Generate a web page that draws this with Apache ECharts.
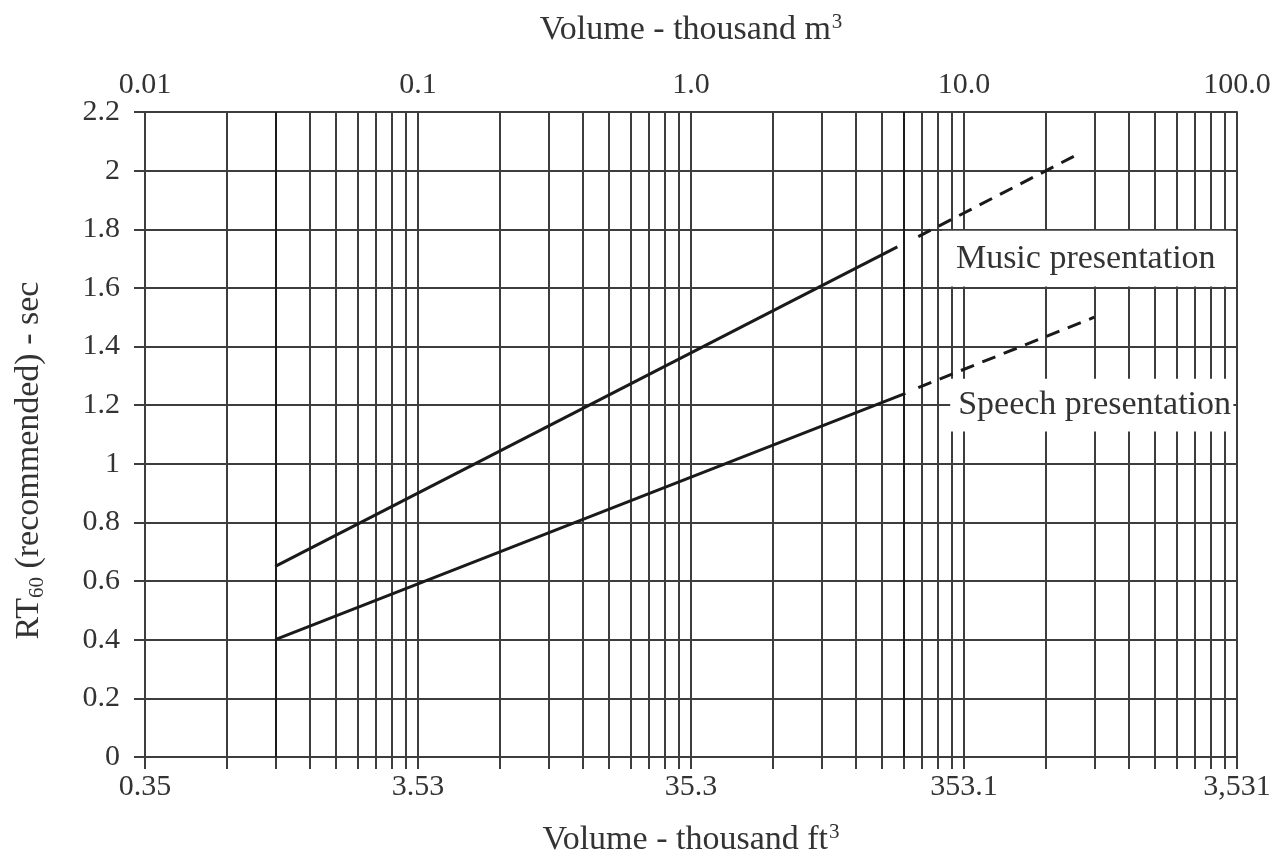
<!DOCTYPE html>
<html>
<head>
<meta charset="utf-8">
<script src="https://cdn.jsdelivr.net/npm/echarts@6/dist/echarts.min.js"></script>
<style>html,body{margin:0;padding:0;background:#fff}#c{width:1276px;height:857px}</style>
</head>
<body>
<div id="c"></div>
<script>
// ---- data ----
const musicSolid = [[0.03, 0.65], [5.7, 1.74]];
const musicDashed = [[6.8, 1.775], [26, 2.055]];
const speechSolid = [[0.03, 0.40], [6.1, 1.24]];
const speechDashed = [[6.8, 1.26], [30, 1.50]];
const majorTicks = [0.01, 0.1, 1, 10, 100];
const topLabels = ['0.01', '0.1', '1.0', '10.0', '100.0'];
const bottomLabels = ['0.35', '3.53', '35.3', '353.1', '3,531'];
const gridTicks = [];
[0.01, 0.1, 1, 10].forEach(function (d) {
  for (let k = 1; k <= 9; k++) gridTicks.push(+(d * k).toPrecision(6));
});
gridTicks.push(100);
const boundaryLines = [0.03, 6];
const musicLabelBox = [[8.3, 1.605], [97, 1.795]];
const speechLabelBox = [[8.9, 1.11], [97, 1.29]];

const FONT = 'Liberation Serif';
const TXT = '#333';
const GRID = '#3d3d3d';

function labelIndex(v) {
  for (let i = 0; i < majorTicks.length; i++) {
    if (Math.abs(Math.log10(v) - Math.log10(majorTicks[i])) < 1e-6) return i;
  }
  return -1;
}

const chart = echarts.init(document.getElementById('c'), null, {renderer: 'canvas'});
chart.setOption({
  animation: false,
  backgroundColor: '#fff',
  grid: {left: 145, right: 39, top: 112, bottom: 100, containLabel: false, outerBoundsMode: 'none'},
  xAxis: [{
    type: 'log', logBase: 10, min: 0.01, max: 100, position: 'bottom',
    name: '{t|Volume - thousand ft}{p|3}',
    nameLocation: 'middle', nameGap: 65,
    nameTextStyle: {
      color: TXT, fontFamily: FONT, fontSize: 34,
      rich: {
        t: {color: TXT, fontFamily: FONT, fontSize: 34, lineHeight: 36},
        p: {color: TXT, fontFamily: FONT, fontSize: 21, lineHeight: 36, verticalAlign: 'top', padding: [0, 0, 13, 1]}
      }
    },
    axisLine: {show: true, onZero: false, lineStyle: {color: GRID, width: 2}},
    axisTick: {show: true, customValues: gridTicks, length: 12, lineStyle: {color: GRID, width: 2}},
    axisLabel: {
      customValues: majorTicks, margin: 15, color: TXT, fontFamily: FONT, fontSize: 30,
      formatter: function (v) { const i = labelIndex(v); return i >= 0 ? bottomLabels[i] : ''; }
    },
    splitLine: {show: true, lineStyle: {color: GRID, width: 2}}
  }, {
    type: 'log', logBase: 10, min: 0.01, max: 100, position: 'top',
    name: '{t|Volume - thousand m}{p|3}',
    nameLocation: 'middle', nameGap: 64,
    nameTextStyle: {
      color: TXT, fontFamily: FONT, fontSize: 34,
      rich: {
        t: {color: TXT, fontFamily: FONT, fontSize: 34, lineHeight: 36},
        p: {color: TXT, fontFamily: FONT, fontSize: 21, lineHeight: 36, verticalAlign: 'top', padding: [0, 0, 13, 1]}
      }
    },
    axisLine: {show: true, onZero: false, lineStyle: {color: GRID, width: 2}},
    axisTick: {show: false, customValues: majorTicks},
    axisLabel: {
      customValues: majorTicks, margin: 12, color: TXT, fontFamily: FONT, fontSize: 30,
      formatter: function (v) { const i = labelIndex(v); return i >= 0 ? topLabels[i] : ''; }
    },
    splitLine: {show: false}
  }],
  yAxis: [{
    type: 'value', min: 0, max: 2.2, interval: 0.2,
    name: '{t|RT}{s|60}{t| (recommended) - sec}',
    nameLocation: 'middle', nameGap: 97, nameRotate: 90,
    nameTextStyle: {
      color: TXT, fontFamily: FONT, fontSize: 34, padding: [0, 52, 0, 0],
      rich: {
        t: {color: TXT, fontFamily: FONT, fontSize: 34, lineHeight: 38},
        s: {color: TXT, fontFamily: FONT, fontSize: 21, lineHeight: 38, verticalAlign: 'bottom', padding: [12, 0, 0, 0]}
      }
    },
    axisLine: {show: true, lineStyle: {color: GRID, width: 2}},
    axisTick: {show: true, length: 11, lineStyle: {color: GRID, width: 2}},
    axisLabel: {margin: 25, color: TXT, fontFamily: FONT, fontSize: 30},
    splitLine: {show: true, lineStyle: {color: GRID, width: 2}}
  }],
  series: [{
    type: 'line', name: 'Music presentation', data: musicSolid, xAxisIndex: 0,
    showSymbol: false, symbol: 'none', lineStyle: {color: '#1a1a1a', width: 3}, z: 5,
    markLine: {
      silent: true, symbol: 'none', label: {show: false},
      lineStyle: {color: '#111', width: 1.5, type: 'solid'},
      data: boundaryLines.map(function (v) { return {xAxis: v}; })
    },
    markArea: {
      silent: true,
      itemStyle: {color: '#fff'},
      label: {show: true, position: 'insideLeft', distance: 14, color: TXT, fontFamily: FONT, fontSize: 34},
      data: [[{name: 'Music presentation', coord: musicLabelBox[0]}, {coord: musicLabelBox[1]}]]
    }
  }, {
    type: 'line', name: 'Music presentation (extrapolated)', data: musicDashed, xAxisIndex: 0,
    showSymbol: false, symbol: 'none', lineStyle: {color: '#1a1a1a', width: 3, type: [14, 9]}, z: 5
  }, {
    type: 'line', name: 'Speech presentation', data: speechSolid, xAxisIndex: 0,
    showSymbol: false, symbol: 'none', lineStyle: {color: '#1a1a1a', width: 3}, z: 5,
    markArea: {
      silent: true,
      itemStyle: {color: '#fff'},
      label: {show: true, position: 'insideLeft', distance: 8, color: TXT, fontFamily: FONT, fontSize: 34},
      data: [[{name: 'Speech presentation', coord: speechLabelBox[0]}, {coord: speechLabelBox[1]}]]
    }
  }, {
    type: 'line', name: 'Speech presentation (extrapolated)', data: speechDashed, xAxisIndex: 0,
    showSymbol: false, symbol: 'none', lineStyle: {color: '#1a1a1a', width: 3, type: [14, 9]}, z: 5
  }]
});
</script>
</body>
</html>
